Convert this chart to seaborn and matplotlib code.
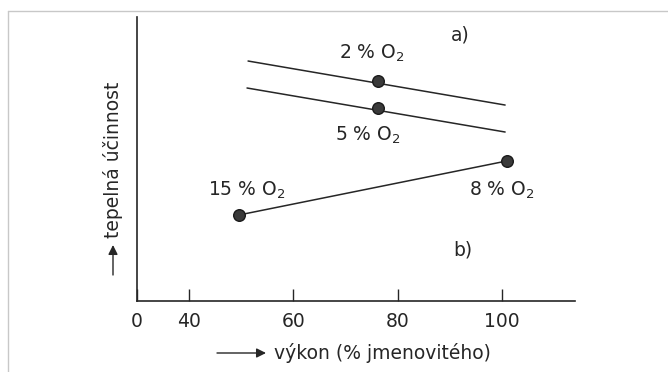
import matplotlib
matplotlib.use("Agg")
import matplotlib.pyplot as plt
from matplotlib.lines import Line2D
import seaborn as sns
import pandas as pd

# ---- data ----
series_names = ["a) 2 % O2", "a) 5 % O2", "b)"]
line_a1_x = [51.3, 100.6]
line_a1_y = [84.5, 69.0]
line_a2_x = [51.1, 100.6]
line_a2_y = [75.0, 59.5]
line_b_x = [49.6, 100.9]
line_b_y = [30.3, 49.3]
points_x = [76.2, 76.2, 49.6, 100.9]
points_y = [77.5, 68.0, 30.3, 49.3]
tick_values = [30, 40, 60, 80, 100]
tick_labels = ["0", "40", "60", "80", "100"]
annot_texts = ["2 % O$_2$", "5 % O$_2$", "15 % O$_2$", "8 % O$_2$", "a)", "b)"]
annot_x = [75.1, 74.3, 51.1, 100.0, 91.9, 92.5]
annot_y = [87.3, 58.5, 39.1, 39.1, 93.7, 18.0]
x_label = "výkon (% jmenovitého)"
y_label = "tepelná účinnost"

lines_df = pd.concat([
    pd.DataFrame({"x": line_a1_x, "y": line_a1_y, "s": series_names[0]}),
    pd.DataFrame({"x": line_a2_x, "y": line_a2_y, "s": series_names[1]}),
    pd.DataFrame({"x": line_b_x, "y": line_b_y, "s": series_names[2]}),
], ignore_index=True)
points_df = pd.DataFrame({"x": points_x, "y": points_y})

sns.set_theme(style="white")
plt.rcParams["font.family"] = ["DejaVu Sans"]
plt.rcParams["mathtext.fontset"] = "dejavusans"

ink = "#262626"
fs = 13.5
fig = plt.figure(figsize=(6.68, 3.72), dpi=100)
fig.patch.set_facecolor("white")
ax = fig.add_axes([137 / 668, 71 / 372, 438 / 668, 284 / 372])
ax.set_facecolor("white")

sns.lineplot(data=lines_df, x="x", y="y", units="s", estimator=None,
             color=ink, linewidth=1.1, ax=ax, legend=False, sort=False)
sns.scatterplot(data=points_df, x="x", y="y", color="#3a3a3a", edgecolor="#1a1a1a",
                linewidth=1.0, s=70, ax=ax, legend=False, zorder=5)

ax.set_xlim(30, 114)
ax.set_ylim(0, 100)
ax.set_xticks(tick_values)
ax.set_xticklabels(tick_labels)
ax.set_yticks([])
ax.tick_params(axis="x", direction="in", length=9, width=1.0, color=ink,
               labelsize=fs, labelcolor=ink, pad=8, bottom=True)
for side in ["top", "right"]:
    ax.spines[side].set_visible(False)
for side in ["left", "bottom"]:
    ax.spines[side].set_color(ink)
    ax.spines[side].set_linewidth(1.2)
ax.set_xlabel("")
ax.set_ylabel("")

for t, x, y in zip(annot_texts, annot_x, annot_y):
    ax.text(x, y, t, ha="center", va="center", fontsize=fs, color=ink)

# axis labels with arrows (figure pixel coordinates)
fig.text(382 / 668, 1 - 353 / 372, x_label, ha="center", va="center",
         fontsize=fs, color=ink)
ax.annotate("", xy=(266, 372 - 353), xytext=(217, 372 - 353),
            xycoords="figure pixels", textcoords="figure pixels",
            arrowprops=dict(arrowstyle="-|>", color=ink, lw=1.0,
                            mutation_scale=14, shrinkA=0, shrinkB=0))
fig.text(113 / 668, 1 - 160 / 372, y_label, ha="center", va="center",
         rotation=90, fontsize=fs, color=ink)
ax.annotate("", xy=(113, 372 - 245), xytext=(113, 372 - 275),
            xycoords="figure pixels", textcoords="figure pixels",
            arrowprops=dict(arrowstyle="-|>", color=ink, lw=1.0,
                            mutation_scale=14, shrinkA=0, shrinkB=0))

# outer frame (top and left edges)
fig.add_artist(Line2D([8 / 668, 1.0], [1 - 11 / 372, 1 - 11 / 372],
                      transform=fig.transFigure, color="#c8c8c8", lw=1.0))
fig.add_artist(Line2D([8 / 668, 8 / 668], [0.0, 1 - 11 / 372],
                      transform=fig.transFigure, color="#c8c8c8", lw=1.0))

fig.savefig("out.png", dpi=100, facecolor="white")
